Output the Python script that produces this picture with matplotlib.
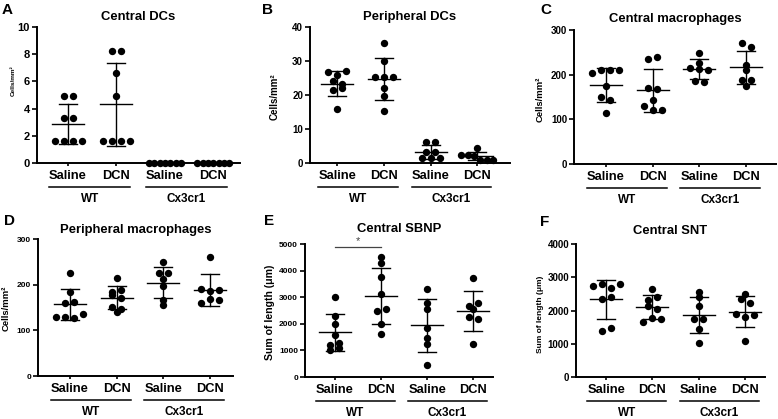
import numpy as np
import matplotlib
matplotlib.use('Agg')
import matplotlib.pyplot as plt
from matplotlib import transforms

plt.rcParams['font.family'] = ['Liberation Sans', 'DejaVu Sans']
plt.rcParams['font.weight'] = 'bold'
plt.rcParams['axes.linewidth'] = 1.4

# ---------------- data ----------------
treatments = ['Saline', 'DCN', 'Saline', 'DCN']
genotypes = ['WT', 'Cx3cr1']

central_dcs = [
    [4.93, 4.93, 3.29, 3.29, 1.64, 1.64, 1.64, 1.64],
    [8.24, 8.24, 6.60, 4.95, 1.64, 1.64, 1.64, 1.64],
    [0, 0, 0, 0, 0, 0, 0],
    [0, 0, 0, 0, 0, 0, 0],
]
peripheral_dcs = [
    [26.7, 25.9, 27.0, 24.2, 23.3, 21.6, 22.0, 15.9],
    [35.3, 29.9, 25.3, 25.3, 25.3, 22.0, 19.6, 15.4],
    [6.1, 6.1, 3.1, 3.1, 1.5, 1.5, 1.5],
    [4.4, 2.3, 2.3, 2.0, 1.0, 1.0, 1.0],
]
central_macrophages = [
    [203, 211, 211, 211, 175, 149, 144, 115],
    [234, 239, 170, 168, 143, 129, 120, 120],
    [249, 215, 226, 212, 210, 186, 184],
    [271, 262, 222, 210, 187, 187, 175],
]
peripheral_macrophages = [
    [225, 185, 160, 161, 130, 130, 128, 136],
    [214, 184, 178, 189, 170, 141, 152, 147],
    [249, 226, 212, 226, 196, 155, 166],
    [261, 190, 186, 188, 160, 168, 166],
]
central_sbnp = [
    [3000, 2300, 2010, 1580, 1010, 1200, 1280, 1090],
    [4500, 4280, 3750, 3110, 2480, 2570, 1980, 1610],
    [3300, 2800, 2540, 1860, 1470, 1230, 440],
    [3730, 2680, 2770, 2570, 2270, 2180, 1235],
]
central_snt = [
    [2750, 2810, 2680, 2810, 2350, 2410, 1370, 1470],
    [2330, 2660, 2400, 2150, 2050, 1660, 1770, 1740],
    [2560, 2400, 2130, 1740, 1740, 1450, 1020],
    [2500, 2350, 2230, 1900, 1800, 1850, 1090],
]

panels = [
    dict(letter='A', title='Central DCs', ylabel='Cells/mm\u00b2', data=central_dcs,
         yticks=[0, 2, 4, 6, 8, 10], rect=(37, 27, 240, 163), xlim=(-0.64, 3.55),
         lpos=(2, 10), ylfs=4.6, ylc=(13, 81), ytfs=8.0, tpad=5),
    dict(letter='B', title='Peripheral DCs', ylabel='Cells/mm\u00b2', data=peripheral_dcs,
         yticks=[0, 10, 20, 30, 40], rect=(310, 27, 510, 163), xlim=(-0.58, 3.70),
         lpos=(262, 10), ylfs=7.0, ylc=(275, 97), ytfs=7.0, tpad=5),
    dict(letter='C', title='Central macrophages', ylabel='Cells/mm\u00b2', data=central_macrophages,
         yticks=[0, 100, 200, 300], rect=(574, 30, 776, 164), xlim=(-0.685, 3.64),
         lpos=(540, 10), ylfs=6.8, ylc=(540, 99), ytfs=7.0, tpad=6),
    dict(letter='D', title='Peripheral macrophages', ylabel='Cells/mm\u00b2', data=peripheral_macrophages,
         yticks=[0, 100, 200, 300], rect=(38, 239, 233, 376), xlim=(-0.685, 3.49),
         lpos=(4, 221), ylfs=6.8, ylc=(6, 308), ytfs=6.0, tpad=4),
    dict(letter='E', title='Central SBNP', ylabel='Sum of length (\u03bcm)', data=central_sbnp,
         yticks=[0, 1000, 2000, 3000, 4000, 5000], rect=(305, 244, 493, 377), xlim=(-0.65, 3.43),
         lpos=(264, 221), ylfs=7.6, ylc=(270, 312), ytfs=6.0, tpad=9),
    dict(letter='F', title='Central SNT', ylabel='Sum of length (\u03bcm)', data=central_snt,
         yticks=[0, 1000, 2000, 3000, 4000], rect=(576, 244, 765, 377), xlim=(-0.65, 3.43),
         lpos=(540, 222), ylfs=6.0, ylc=(541, 314), ytfs=7.0, tpad=7),
]

W, H = 778, 419
fig = plt.figure(figsize=(W / 100, H / 100), dpi=100)

ROW_TOL_PX = 4.5
SPACING_PX = 9.0
MAX_SPREAD_PX = 32.0


def swarm_offsets(vals, px_per_y):
    vals = np.asarray(vals, dtype=float)
    n = len(vals)
    order = sorted(range(n), key=lambda i: -vals[i])
    offs = np.zeros(n)
    rows = []
    cur = []
    for i in order:
        if cur and abs(vals[cur[0]] - vals[i]) * px_per_y > ROW_TOL_PX:
            rows.append(cur)
            cur = []
        cur.append(i)
    if cur:
        rows.append(cur)
    for row in rows:
        row = sorted(row)
        k = len(row)
        s = SPACING_PX
        if k > 1 and (k - 1) * s > MAX_SPREAD_PX:
            s = MAX_SPREAD_PX / (k - 1)
        for j, idx in enumerate(row):
            offs[idx] = (j - (k - 1) / 2) * s
    return offs


axes = []
for p in panels:
    x0, y0, x1, y1 = p['rect']
    ax = fig.add_axes([x0 / W, 1 - y1 / H, (x1 - x0) / W, (y1 - y0) / H])
    axes.append(ax)
    ax.set_xlim(*p['xlim'])
    ax.set_ylim(p['yticks'][0], p['yticks'][-1])
    for s in ['top', 'right']:
        ax.spines[s].set_visible(False)
    ax.spines['left'].set_bounds(p['yticks'][0], p['yticks'][-1])
    ax.set_yticks(p['yticks'])
    ax.set_yticklabels([str(t) for t in p['yticks']], fontsize=p['ytfs'], fontweight='bold')
    ax.set_xticks(range(4))
    ax.set_xticklabels(treatments, fontsize=9.3, fontweight='bold')
    ax.tick_params(axis='y', length=3.5, width=1.2, pad=1.5)
    ax.tick_params(axis='x', length=2.5, width=1.2, pad=2.5)
    ax.set_ylabel(p['ylabel'], fontsize=p['ylfs'], fontweight='bold', va='center')
    wpx = x1 - x0
    hpx = y1 - y0
    ax.yaxis.set_label_coords((p['ylc'][0] - x0) / wpx, (y1 - p['ylc'][1]) / hpx)
    ax.set_title(p['title'], fontsize=9.4, fontweight='bold', pad=p['tpad'])
    fig.text(p['lpos'][0] / W, 1 - p['lpos'][1] / H, p['letter'], fontsize=11,
             fontweight='bold', ha='left', va='center')

    px_per_x = wpx / (p['xlim'][1] - p['xlim'][0])
    px_per_y = hpx / (p['yticks'][-1] - p['yticks'][0])
    for gi, vals in enumerate(p['data']):
        vals = np.asarray(vals, dtype=float)
        offs = swarm_offsets(vals, px_per_y) / px_per_x
        ax.plot(gi + offs, vals, 'o', color='black', ms=5.3, mew=0, clip_on=False, zorder=3)
        m = vals.mean()
        sd = vals.std(ddof=1)
        hw_mean = 16 / px_per_x
        hw_cap = 9 / px_per_x
        ax.plot([gi - hw_mean, gi + hw_mean], [m, m], color='black', lw=1.0, zorder=4, clip_on=False)
        ax.plot([gi, gi], [m - sd, m + sd], color='black', lw=1.0, zorder=4, clip_on=False)
        ax.plot([gi - hw_cap, gi + hw_cap], [m + sd, m + sd], color='black', lw=1.0, zorder=4, clip_on=False)
        ax.plot([gi - hw_cap, gi + hw_cap], [m - sd, m - sd], color='black', lw=1.0, zorder=4, clip_on=False)

# significance marker in panel E
axE = axes[4]
axE.plot([0, 1], [4890, 4890], color='#444444', lw=0.9, clip_on=False)
axE.text(0.5, 4930, '*', ha='center', va='bottom', fontsize=8, color='#444444',
         fontweight='normal')

# genotype group labels under the tick labels
fig.canvas.draw()
renderer = fig.canvas.get_renderer()
for ax in axes:
    labels = ax.get_xticklabels()
    inv = ax.transData.inverted()
    for gi, gname in enumerate(genotypes):
        bb_l = labels[2 * gi].get_window_extent(renderer)
        bb_r = labels[2 * gi + 1].get_window_extent(renderer)
        xl = inv.transform((bb_l.x0, 0))[0]
        xr = inv.transform((bb_r.x1, 0))[0]
        tline = transforms.offset_copy(ax.get_xaxis_transform(), fig=fig, y=-24 * 0.72, units='points')
        ttext = transforms.offset_copy(ax.get_xaxis_transform(), fig=fig, y=-36 * 0.72, units='points')
        ax.plot([xl, xr], [0, 0], color='black', lw=1.1, transform=tline, clip_on=False)
        ax.text((xl + xr) / 2, 0, gname, transform=ttext, ha='center', va='center',
                fontsize=8.5, fontweight='bold')

fig.savefig('out.png', dpi=100)
